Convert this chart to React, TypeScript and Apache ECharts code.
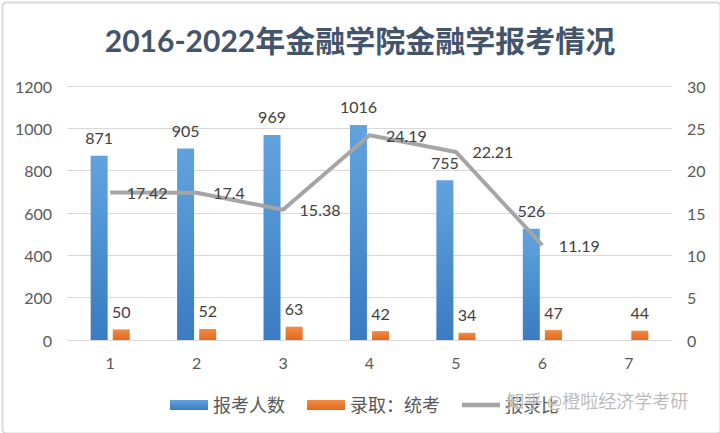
import React, { useEffect, useRef } from "react";
import * as echarts from "echarts";

const categories = ["1", "2", "3", "4", "5", "6", "7"];
const applicants = [871, 905, 969, 1016, 755, 526, null];
const admitted = [50, 52, 63, 42, 34, 47, 44];
const ratio = [17.42, 17.4, 15.38, 24.19, 22.21, 11.19, null];
const titleText = "2016-2022年金融学院金融学报考情况";
const seriesNames = ["报考人数", "录取：统考", "报录比"];
const watermark = "知乎 @橙啦经济学考研";

const FONT = "Lato, 'Noto Sans CJK SC', sans-serif";

export default function App() {
  const ref = useRef<HTMLDivElement>(null);
  useEffect(() => {
    document.body.style.margin = "0";
    const chart = echarts.init(ref.current!, null, { renderer: "svg" });
    const blue = new echarts.graphic.LinearGradient(0, 0, 0, 1, [
      { offset: 0, color: "#62A3DE" },
      { offset: 1, color: "#3A7BC2" },
    ]);
    const orange = new echarts.graphic.LinearGradient(0, 0, 0, 1, [
      { offset: 0, color: "#F28B45" },
      { offset: 1, color: "#E2691C" },
    ]);
    chart.setOption({
      animation: false,
      backgroundColor: "#ffffff",
      textStyle: { fontFamily: FONT },
      title: {
        text: titleText,
        left: "center",
        top: 20,
        textStyle: { fontSize: 30, fontWeight: "bold", color: "#44546A", fontFamily: FONT },
      },
      grid: { left: 67, right: 48, top: 86, bottom: 93 },
      legend: {
        left: 165,
        top: 391,
        itemWidth: 38,
        itemHeight: 10,
        itemGap: 22,
        textStyle: { fontSize: 18, color: "#595959", fontFamily: FONT },
        data: [
          { name: seriesNames[0], icon: "rect" },
          { name: seriesNames[1], icon: "rect" },
          {
            name: seriesNames[2],
            icon: "path://M0,0 L38,0 L38,4.5 L0,4.5 Z",
            itemStyle: { color: "#A5A5A5" },
          },
        ],
      },
      graphic: [
        {
          type: "rect",
          left: 0,
          top: 0,
          shape: { width: 718, height: 431, r: 4 },
          style: { fill: "none", stroke: "#D9D9D9", lineWidth: 2 },
          silent: true,
        },
        {
          type: "text",
          left: 506,
          top: 391,
          z: 100,
          style: {
            text: watermark,
            fontSize: 18,
            fontFamily: FONT,
            fill: "rgba(175,175,175,0.85)",
            stroke: "rgba(255,255,255,0.6)",
            lineWidth: 1,
          },
          silent: true,
        },
      ],
      xAxis: {
        type: "category",
        data: categories,
        axisLine: { lineStyle: { color: "#D9D9D9", width: 1 } },
        axisTick: { show: false },
        axisLabel: { color: "#595959", fontSize: 16, margin: 14, fontFamily: FONT },
      },
      yAxis: [
        {
          type: "value",
          min: 0,
          max: 1200,
          interval: 200,
          axisLine: { show: false },
          axisTick: { show: false },
          axisLabel: {
            color: "#595959",
            fontSize: 16,
            margin: 15,
            fontFamily: FONT,
            formatter: (v: number) => String(v),
          },
          splitLine: { lineStyle: { color: "#D9D9D9", width: 1 } },
        },
        {
          type: "value",
          min: 0,
          max: 30,
          interval: 5,
          axisLine: { show: false },
          axisTick: { show: false },
          axisLabel: {
            color: "#595959",
            fontSize: 16,
            margin: 15,
            fontFamily: FONT,
            formatter: (v: number) => String(v),
          },
          splitLine: { show: false },
        },
      ],
      series: [
        {
          name: seriesNames[0],
          type: "bar",
          data: applicants,
          barWidth: 17,
          barGap: "30%",
          itemStyle: { color: blue },
          label: {
            show: true,
            position: "top",
            distance: 10,
            color: "#404040",
            fontSize: 16,
            fontFamily: FONT,
          },
        },
        {
          name: seriesNames[1],
          type: "bar",
          data: admitted,
          barWidth: 17,
          itemStyle: { color: orange },
          label: {
            show: true,
            position: "top",
            distance: 10,
            color: "#404040",
            fontSize: 16,
            fontFamily: FONT,
          },
        },
        {
          name: seriesNames[2],
          type: "line",
          yAxisIndex: 1,
          data: ratio,
          symbol: "circle",
          symbolSize: 1,
          showSymbol: true,
          lineStyle: { color: "#A5A5A5", width: 4 },
          itemStyle: { color: "rgba(165,165,165,0)" },
          label: {
            show: true,
            position: "right",
            distance: 16,
            color: "#404040",
            fontSize: 16,
            fontFamily: FONT,
          },
          z: 5,
        },
      ],
    });
    return () => chart.dispose();
  }, []);
  return <div ref={ref} style={{ width: 720, height: 433 }} />;
}
